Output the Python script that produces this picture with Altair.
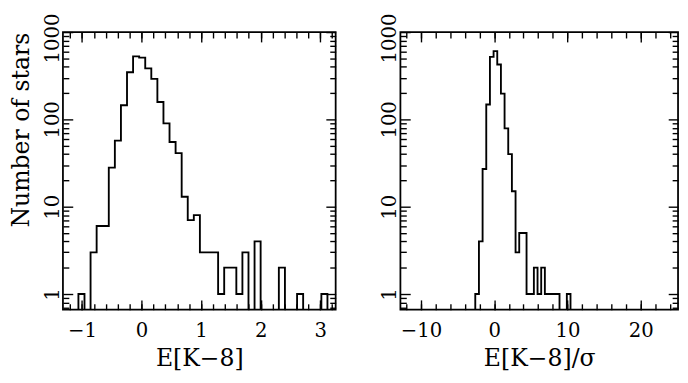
import altair as alt
import pandas as pd

# ---- data ----
left_bin_start = -1.06
left_bin_width = 0.102
left_counts = [1, 0, 3, 6, 6, 28, 57, 145, 347, 526, 510, 384, 291, 158, 90, 55, 41,
               13, 7, 8, 3, 3, 3, 1, 2, 2, 1, 3, 0, 4, 0, 0, 0, 2, 0, 0, 1, 0, 0, 0, 1]

right_bin_start = -2.58
right_bin_width = 0.5
right_counts = [1, 4, 27, 148, 520, 606, 425, 197, 79, 40, 15, 3, 5, 5, 1, 1, 2, 1, 2,
                1, 1, 1, 1, 0, 0, 1]

left_x_domain = [-1.32, 3.26]
right_x_domain = [-12.8, 25.1]
y_domain = [0.66, 1000]

left_major = [-1, 0, 1, 2, 3]
left_minor = [-1.2, -1.0, -0.8, -0.6, -0.4, -0.2, 0.0, 0.2, 0.4, 0.6, 0.8, 1.0, 1.2, 1.4,
              1.6, 1.8, 2.0, 2.2, 2.4, 2.6, 2.8, 3.0, 3.2]
right_major = [-10, 0, 10, 20]
right_minor = [-12, -10, -8, -6, -4, -2, 0, 2, 4, 6, 8, 10, 12, 14, 16, 18, 20, 22, 24]
y_major = [1, 10, 100, 1000]
y_minor = [0.7, 0.8, 0.9, 2, 3, 4, 5, 6, 7, 8, 9, 20, 30, 40, 50, 60, 70, 80, 90,
           200, 300, 400, 500, 600, 700, 800, 900]

FLOOR = 0.3  # empty bins drop below the axis (clipped)
FONT = "DejaVu Serif"


def step_frame(start, width, counts):
    rows = []
    o = 0
    rows.append({"x": start, "y": FLOOR, "o": o})
    for k, c in enumerate(counts):
        a = start + k * width
        b = a + width
        v = c if c > 0 else FLOOR
        o += 1
        rows.append({"x": a, "y": v, "o": o})
        o += 1
        rows.append({"x": b, "y": v, "o": o})
    o += 1
    rows.append({"x": start + len(counts) * width, "y": FLOOR, "o": o})
    return pd.DataFrame(rows)


def tick_axis(orient, values, size):
    return alt.Axis(orient=orient, values=values, tickSize=size, offset=-size,
                    domain=False, grid=False, labels=False, tickColor="black",
                    tickWidth=1.4, title=None)


def label_axis(orient, values, title, **kw):
    args = dict(orient=orient, values=values, ticks=False, tickSize=0,
                domain=False, grid=False, labels=True, format="d",
                labelFont=FONT, labelFontSize=20, labelColor="black",
                labelFlush=False, labelOverlap=False, title=title)
    if title:
        args.update(titleFont=FONT, titleFontSize=24, titleColor="black",
                    titleFontWeight="normal")
    args.update(kw)
    return alt.Axis(**args)


def panel(df, xdom, xmaj, xmin, xtitle, ytitle, w, h):
    base = alt.Chart(df)

    def enc(xa, ya):
        return dict(
            x=alt.X("x:Q", scale=alt.Scale(domain=xdom, nice=False, zero=False), axis=xa),
            y=alt.Y("y:Q", scale=alt.Scale(type="log", domain=y_domain, nice=False), axis=ya),
            order=alt.Order("o:Q"),
        )

    l1 = base.mark_line(color="black", strokeWidth=1.9, clip=True).encode(
        **enc(
            label_axis("bottom", xmaj, xtitle, labelPadding=11, titlePadding=7),
            label_axis("left", y_major, ytitle, labelAngle=-90, labelAlign="center",
                       labelBaseline="alphabetic", labelPadding=5, titlePadding=9,
                       titleAnchor="end",
                       labelOffset={"condition": {"test": "datum.value >= 1000", "value": 6},
                                    "value": 0}),
        ))
    l2 = base.mark_line(opacity=0, clip=True).encode(
        **enc(tick_axis("bottom", xmaj, 10), tick_axis("left", y_major, 10)))
    l3 = base.mark_line(opacity=0, clip=True).encode(
        **enc(tick_axis("bottom", xmin, 6), tick_axis("left", y_minor, 6)))
    l4 = base.mark_line(opacity=0, clip=True).encode(
        **enc(tick_axis("top", xmaj, 10), tick_axis("right", y_major, 10)))
    l5 = base.mark_line(opacity=0, clip=True).encode(
        **enc(tick_axis("top", xmin, 6), tick_axis("right", y_minor, 6)))
    return alt.layer(l1, l2, l3, l4, l5).resolve_axis(
        x="independent", y="independent").properties(width=w, height=h)


left = panel(step_frame(left_bin_start, left_bin_width, left_counts),
             left_x_domain, left_major, left_minor, "E[K\u22128]", "Number of stars", 278, 283)
right = panel(step_frame(right_bin_start, right_bin_width, right_counts),
              right_x_domain, right_major, right_minor, "E[K\u22128]/\u03c3", None, 283, 283)

chart = alt.hconcat(left, right, spacing=42).properties(
    padding={"left": 1, "top": 0, "right": 0, "bottom": 0}
).configure_view(stroke="black", strokeWidth=1.8)

chart.save("out.html", embed_options={"renderer": "svg", "actions": False})
